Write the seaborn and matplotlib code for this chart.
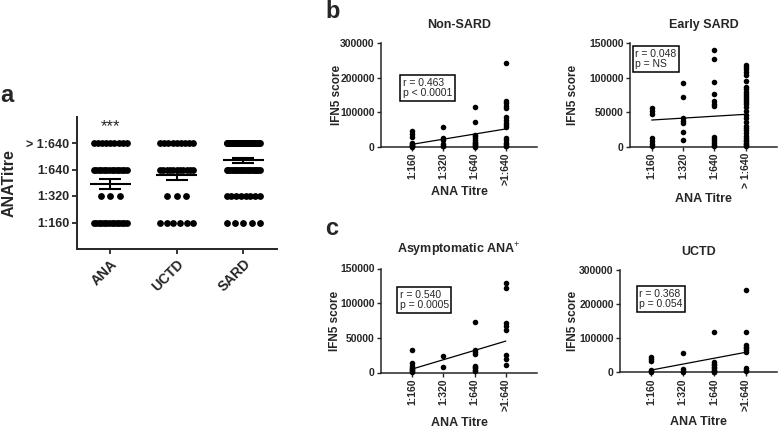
import numpy as np
import pandas as pd
import matplotlib
matplotlib.use('Agg')
import matplotlib.pyplot as plt
import seaborn as sns

sns.set_style('ticks')
plt.rcParams['font.family'] = ['Liberation Sans', 'DejaVu Sans']
plt.rcParams['mathtext.fontset'] = 'custom'
plt.rcParams['mathtext.rm'] = 'Liberation Sans'
plt.rcParams['mathtext.bf'] = 'Liberation Sans:bold'

# ---------------- Panel a data ----------------
groups = ['ANA', 'UCTD', 'SARD']
titre_levels = [1, 2, 3, 4]
a_tick_labels = ['1:160', '1:320', '1:640', '> 1:640']
ana_counts = [14, 3, 14, 9]
uctd_counts = [6, 3, 11, 9]
sard_counts = [5, 8, 20, 45]

# ---------------- Panels b, c data ----------------
titre_x = [1, 2, 3, 4]
labels_nonsard = ['1:160', '1:320', '1:640', '>1:640']
labels_early = ['1:160', '1:320', '1:640', '> 1:640']
labels_asym = ['1:160', '1:320', '1:640', '>1:640']
labels_uctd = ['1:160', '1:320', '1:640', '>1:640']

nonsard_vals = [
    [47000, 38000, 28000, 12000, 8000, 5000, 3000, 1500, 500],
    [56000, 25000, 18000, 8000, 3000, 1000],
    [116000, 72000, 35000, 30000, 25000, 20000, 15000, 10000, 7000, 4000, 2000, 500],
    [242000, 132000, 126000, 118000, 112000, 85000, 78000, 70000, 62000, 56000,
     25000, 18000, 12000, 7000, 3000, 1000],
]
early_vals = [
    [56000, 52000, 47000, 12000, 8000, 4000, 1000],
    [93000, 72000, 42000, 38000, 35000, 22000, 9000],
    [140000, 127000, 94000, 76000, 66000, 62000, 59000, 14000, 11000, 8000, 5000, 3000, 1000],
    [118000, 115000, 112000, 108000, 104000, 95000, 86000, 83000, 80000, 77000, 74000,
     71000, 68000, 65000, 62000, 58000, 52000, 46000, 41000, 36000, 30000, 27000, 24000,
     20000, 16000, 13000, 10000, 8000, 6000, 4000, 2000, 1000],
]
asym_vals = [
    [32000, 13000, 9000, 7000, 5000, 3500, 2000, 800],
    [24000, 7500],
    [73000, 33000, 30000, 26000, 10000, 8000, 6000, 4000, 2000],
    [129000, 122000, 72000, 67000, 61000, 25000, 19000, 11000],
]
uctd_vals = [
    [46000, 40000, 33000, 8000, 5000, 2000],
    [56000, 9000, 5000, 2000],
    [118000, 30000, 25000, 20000, 15000, 12000, 8000, 5000, 2000, 500],
    [242000, 118000, 80000, 75000, 70000, 65000, 60000, 12000, 8000, 4000],
]
fit_x = [1, 4]
nonsard_fit = [7000, 51500]
early_fit = [38700, 47000]
asym_fit = [5000, 45300]
uctd_fit = [6700, 58600]

stats_nonsard = 'r = 0.463\np < 0.0001'
stats_early = 'r = 0.048\np = NS'
stats_asym = 'r = 0.540\np = 0.0005'
stats_uctd = 'r = 0.368\np = 0.054'

# ---------------- Figure ----------------
W, H = 778, 429
fig = plt.figure(figsize=(W / 100, H / 100), dpi=100)


def rect(l, t, r, b):
    return [l / W, 1 - b / H, (r - l) / W, (b - t) / H]


ax_a = fig.add_axes(rect(77, 116.5, 276.5, 249))
ax_b1 = fig.add_axes(rect(381, 43.3, 537, 146.7))
ax_b2 = fig.add_axes(rect(630, 43.3, 777.3, 146.7))
ax_c1 = fig.add_axes(rect(381, 268.5, 537, 372.5))
ax_c2 = fig.add_axes(rect(620, 270, 777, 372.3))

# ---------------- Panel a ----------------
rows = []
spacing, maxw = 0.145, 0.5
for gi, (g, counts) in enumerate(zip(groups, [ana_counts, uctd_counts, sard_counts])):
    for lev, n in zip(titre_levels, counts):
        w = min((n - 1) * spacing, maxw)
        offs = np.linspace(-w / 2, w / 2, n) if n > 1 else np.array([0.0])
        for o in offs:
            rows.append({'group': g, 'xpos': gi + o, 'titre': lev})
df_a = pd.DataFrame(rows)
sns.scatterplot(data=df_a, x='xpos', y='titre', color='black', s=24, linewidth=0,
                ax=ax_a, legend=False, clip_on=False)
for gi, g in enumerate(groups):
    v = df_a.loc[df_a.group == g, 'titre'].to_numpy()
    m = v.mean()
    se = v.std(ddof=1) / np.sqrt(len(v))
    ax_a.errorbar(gi, m, yerr=se, fmt='none', ecolor='black', elinewidth=1.5,
                  capsize=8, capthick=1.5, zorder=4)
    ax_a.hlines(m, gi - 0.31, gi + 0.31, color='black', lw=1.5, zorder=4)
ax_a.text(0, 4.45, '***', ha='center', va='baseline', fontsize=12)
ax_a.set_xlim(-0.5, 2.5)
ax_a.set_ylim(0, 5)
ax_a.set_xticks(range(len(groups)))
ax_a.set_xticklabels(groups, rotation=45, ha='right', rotation_mode='anchor',
                     fontsize=10, fontweight='bold')
ax_a.set_yticks(titre_levels)
ax_a.set_yticklabels(a_tick_labels, fontsize=9, fontweight='bold')
ax_a.set_xlabel('')
ax_a.set_ylabel('ANATitre', fontsize=11.5, fontweight='bold')
ax_a.yaxis.set_label_coords(-0.34, 0.5)
ax_a.yaxis.label.set_verticalalignment('center')
for s in ['top', 'right']:
    ax_a.spines[s].set_visible(False)
for s in ['left', 'bottom']:
    ax_a.spines[s].set_linewidth(1.4)
ax_a.tick_params(direction='out', length=3.5, width=1.3, pad=2)

# ---------------- Panels b, c ----------------
panels = [
    (ax_b1, nonsard_vals, nonsard_fit, labels_nonsard, 'Non-SARD', [0, 100000, 200000, 300000],
     (0, 5), stats_nonsard, (0.141, 0.668), (-0.284, 0.5), 191.7),
    (ax_b2, early_vals, early_fit, labels_early, 'Early SARD', [0, 50000, 100000, 150000],
     (0.31, 5), stats_early, (0.037, 0.945), (-0.387, 0.5), 199.3),
    (ax_c1, asym_vals, asym_fit, labels_asym, r'Asymptomatic ANA$^{+}$', [0, 50000, 100000, 150000],
     (0, 5), stats_asym, (0.119, 0.794), (-0.295, 0.5), 423),
    (ax_c2, uctd_vals, uctd_fit, labels_uctd, 'UCTD', [0, 100000, 200000, 300000],
     (0, 5), stats_uctd, (0.124, 0.819), (-0.30, 0.5), 421.7),
]

for ax, vals, fit, xlabels, title, yt, xl, stats, tpos, ylpos, xlab_y in panels:
    recs = [{'x': xv, 'v': v} for xv, col in zip(titre_x, vals) for v in col]
    d = pd.DataFrame(recs)
    sns.scatterplot(data=d, x='x', y='v', color='black', s=16, linewidth=0, ax=ax,
                    legend=False, clip_on=False, zorder=3)
    sns.lineplot(x=fit_x, y=fit, color='black', lw=0.9, ax=ax)
    ax.set_xlim(*xl)
    ax.set_ylim(0, yt[-1])
    ax.set_xticks(titre_x)
    ax.set_xticklabels(xlabels, rotation=90, fontsize=7.5, fontweight='bold')
    ax.set_yticks(yt)
    ax.set_yticklabels([str(t) for t in yt], fontsize=7.5, fontweight='bold')
    ax.set_title(title, fontsize=9, fontweight='bold', pad=11)
    ax.set_xlabel('ANA Titre', fontsize=9, fontweight='bold')
    ax.set_ylabel('IFN5 score', fontsize=8.5, fontweight='bold')
    # position labels
    bb = ax.get_position()
    ax_h_px = bb.height * H
    ax_bottom_px = (1 - bb.y0) * H
    ax.xaxis.set_label_coords(0.5, -(xlab_y - ax_bottom_px) / ax_h_px)
    ax.xaxis.label.set_verticalalignment('center')
    ax.yaxis.set_label_coords(*ylpos)
    ax.yaxis.label.set_verticalalignment('center')
    ax.text(tpos[0], tpos[1], stats, transform=ax.transAxes, ha='left', va='top',
            fontsize=7.5, linespacing=1.05,
            bbox=dict(boxstyle='square,pad=0.25', facecolor='white', edgecolor='black', lw=1.1))
    for s in ['top', 'right']:
        ax.spines[s].set_visible(False)
    for s in ['left', 'bottom']:
        ax.spines[s].set_linewidth(1.1)
    ax.tick_params(direction='out', length=3, width=1.0, pad=1.5)

fig.text(0 / W, 1 - 102 / H, 'a', fontsize=17, fontweight='bold', va='baseline', ha='left')
fig.text(325 / W, 1 - 18 / H, 'b', fontsize=17, fontweight='bold', va='baseline', ha='left')
fig.text(325 / W, 1 - 235 / H, 'c', fontsize=17, fontweight='bold', va='baseline', ha='left')

fig.savefig('out.png', dpi=100)
